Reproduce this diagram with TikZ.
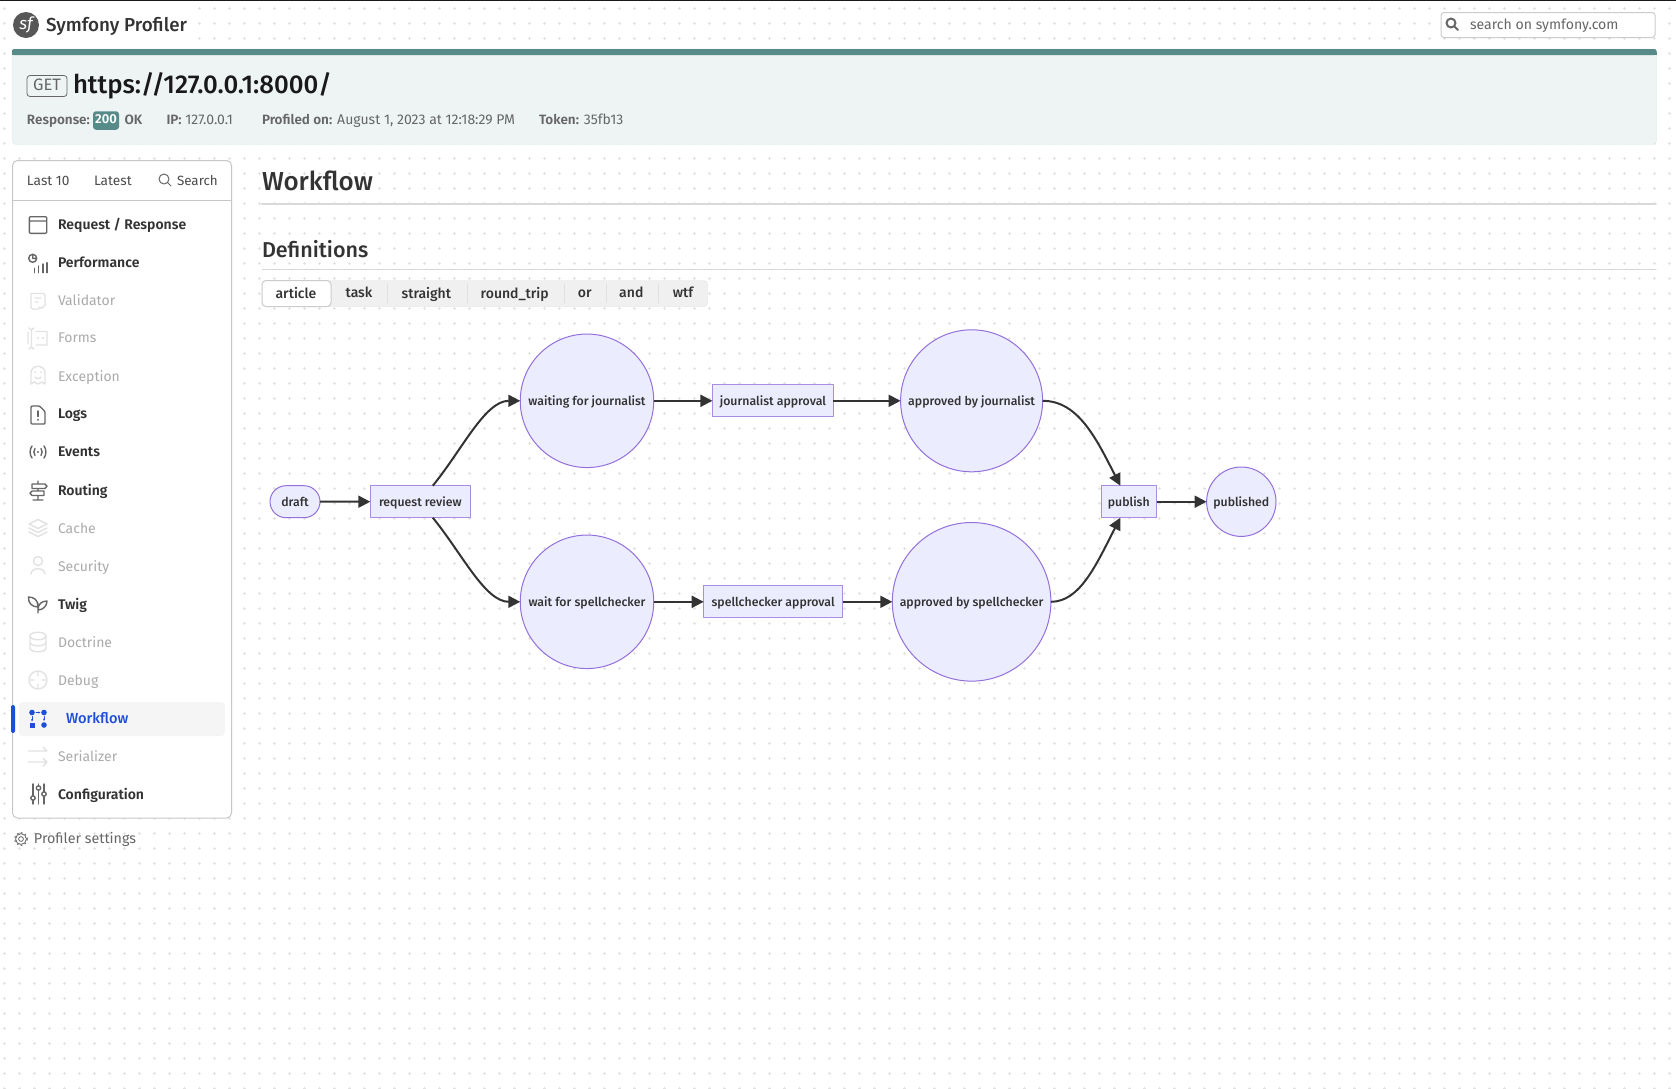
\documentclass[tikz,border=0pt]{standalone}
\usepackage{fontspec}
\setmainfont{Fira Sans}[BoldFont={Fira Sans SemiBold}]
\newfontfamily\medfont{Fira Sans Medium}
\usetikzlibrary{arrows.meta,shapes.misc}
\definecolor{teal}{HTML}{568B8A}
\definecolor{mint}{HTML}{EEF4F4}
\definecolor{mintline}{HTML}{DCE7E7}
\definecolor{ink}{HTML}{333333}
\definecolor{fade}{HTML}{ABABAB}
\definecolor{faint}{HTML}{E2E2E2}
\definecolor{iconink}{HTML}{666666}
\definecolor{linkblue}{HTML}{1D4ED8}
\definecolor{nodefill}{HTML}{ECECFF}
\definecolor{nodeline}{HTML}{9370DB}
\newcommand{\fsz}[1]{\fontsize{#1}{#1}\selectfont}
\begin{document}
\begin{tikzpicture}[x=1pt,y=-1pt,>=stealth,line join=round,line cap=round,
	lbl/.style={inner sep=0pt,outer sep=0pt,text=ink,execute at begin node={\vphantom{Ap}}},
	menu/.style={lbl,anchor=west,font=\fsz{14}},
	tab/.style={lbl,font=\medfont\fsz{14}},
	gnode/.style={lbl,font=\medfont\fsz{12.3},execute at begin node={\rule{0pt}{.92em}\vphantom{Ap}}},
	place/.style={gnode,circle,draw=nodeline,fill=nodefill,line width=1pt},
	trans/.style={gnode,rectangle,draw=nodeline!80!white,fill=nodefill,line width=1.2pt,minimum height=32pt},
	edge/.style={draw=ink,line width=2pt,line cap=butt,-{Triangle[length=12pt,width=12pt]}},
	ico/.style={line width=1.4pt,fill=none},
	]
	\useasboundingbox (0,0) rectangle (1676,1088);
	\fill[white] (0,0) rectangle (1676,1088);
	% background marks
	\foreach \x in {4,19,...,1669}
		\foreach \y in {8,23,...,1088}
			\draw[faint,line width=.8pt,line cap=butt] (\x-1.5,\y)--(\x+1.5,\y) (\x,\y-1.5)--(\x,\y+1.5);
	\fill[black!90] (0,0) rectangle (1676,1.2);

	% header
	\fill[white] (10,3) rectangle (196,46);
	\node[circle,fill=iconink!85!black,minimum size=26pt,inner sep=0pt,text=white,font=\fsz{17}\itshape] (logo) at (26,25) {sf};
	\node[lbl,anchor=west,font=\medfont\fsz{18.8}] (brand) at (46,26.5) {Symfony Profiler};
	\draw[black!20,fill=white,rounded corners=3pt,line width=1pt] (1441,12.5) rectangle (1655,37.5);
	\draw[iconink,line width=2pt] (1451,23) circle (4.5) (1454.5,26.5)--(1458,30);
	\node[lbl,anchor=west,text=black!60,font=\fsz{14.1}] (searchsite) at (1470,26) {search on symfony.com};

	% summary
	\draw[mintline,fill=mint,rounded corners=4pt] (12,49) rectangle (1656.5,144.5);
	\fill[teal,rounded corners=2pt] (12,49) rectangle (1656.5,55);
	\fill[teal] (12,52) rectangle (1656.5,55);
	\node[lbl,draw=iconink,line width=.8pt,rounded corners=3pt,minimum width=40pt,minimum height=21pt,text=iconink,font=\fsz{16.5}] (verb) at (47,86) {GET};
	\node[lbl,anchor=west,text=black!90,font=\medfont\fsz{25.8}] (url) at (73,86) {https://127.0.0.1:8000/};
	\node[lbl,anchor=west,text=iconink,font=\fsz{13.5}\bfseries] (resp) at (27,121) {Response:};
	\node[lbl,fill=teal,rounded corners=3pt,minimum width=26pt,minimum height=18.5pt,text=white,font=\fsz{13}\bfseries] (code) at (106,120.5) {200};
	\node[lbl,anchor=west,text=iconink,font=\fsz{13.5}\bfseries] (okay) at (124.5,121) {OK};
	\node[lbl,anchor=west,text=iconink,font=\fsz{14}] (addr) at (166.5,121) {{\fsz{13.5}\bfseries IP:} 127.0.0.1};
	\node[lbl,anchor=west,text=iconink,font=\fsz{14}] (stamp) at (262,121) {{\fsz{13.5}\bfseries Profiled on:} August 1, 2023 at 12:18:29 PM};
	\node[lbl,anchor=west,text=iconink,font=\fsz{14}] (token) at (539,121) {{\fsz{13.5}\bfseries Token:} 35fb13};

	% sidebar
	\draw[black!22,fill=white,rounded corners=5pt,line width=1pt] (12.5,160.5) rectangle (231.5,818);
	\draw[black!22,line width=1pt] (12.5,200.7)--(231.5,200.7);
	\node[lbl,anchor=west,text=black!70,font=\fsz{13.7}] (lastten) at (27,182) {Last 10};
	\node[lbl,anchor=west,text=black!70,font=\fsz{13.7}] (latest) at (94,182) {Latest};
	\draw[iconink,line width=1pt] (164,179) circle (5) (167.5,182.5)--(171,186);
	\node[lbl,anchor=west,text=black!70,font=\fsz{13.4}] (search) at (177,181.5) {Search};
	\fill[black!4,rounded corners=4pt] (19,702) rectangle (225,736);
	\fill[linkblue,rounded corners=2pt] (11,705) rectangle (15,733);
	\foreach \y/\txt/\col/\wgt in {224/{Request / Response}/ink/\bfseries,262/Performance/ink/\bfseries,300/Validator/fade/,338/Forms/fade/,376/Exception/fade/,414/Logs/ink/\bfseries,452/Events/ink/\bfseries,490/Routing/ink/\bfseries,528/Cache/fade/,566/Security/fade/,604/Twig/ink/\bfseries,642/Doctrine/fade/,680/Debug/fade/,756/Serializer/fade/,794/Configuration/ink/\bfseries}
		\node[menu,text=\col,font=\fsz{14}\wgt,name=item\y] at (58,\y+1.5) {\txt};
	\node[menu,text=linkblue,font=\medfont\fsz{14.6}] (itemworkflow) at (66,719.5) {Workflow};
	\node[lbl,anchor=west,text=iconink,font=\fsz{14.3}] (settings) at (34,839) {Profiler settings};

	% menu icons
	\begin{scope}[ico,iconink]
		\draw[rounded corners=1pt] (29.3,216.7) rectangle (46.7,233.3) (29.3,221)--(46.7,221);
		\draw (32.7,258.3) circle (4) (32.7,255.8)--(32.7,258.3)--(35,258.3);
		\foreach \b/\t in {34.7/268.3,38.7/266,43/264,47/262.7}
			\draw (\b,272.7)--(\b,\t);
		\draw[rounded corners=1pt] (31,406)--(31,424)--(45,424)--(45,411.5)--(39.5,406)--cycle;
		\draw (38,411)--(38,416.5) (38,419.5)--(38,420);
		\draw (32,446)++(0,0) .. controls (29.5,449) and (29.5,455) .. (32,458) (44,446) .. controls (46.5,449) and (46.5,455) .. (44,458)
			(35,448.5) .. controls (33.5,450.5) and (33.5,453.5) .. (35,455.5) (41,448.5) .. controls (42.5,450.5) and (42.5,453.5) .. (41,455.5);
		\fill (38,452) circle (1.2);
		\draw (38,481)--(38,484) (38,488.5)--(38,491) (38,495.5)--(38,500) (33,500)--(43,500)
			(32,484)--(45,484)--(47,486.2)--(45,488.5)--(32,488.5)--cycle (44,491)--(32,491)--(30,493.2)--(32,495.5)--(44,495.5)--cycle;
		\draw (38,603)--(38,613)
			(38,606.5) .. controls (38,600) and (34,597) .. (28.5,597) .. controls (28,603) and (32,607) .. (38,607)
			(38,609.5) .. controls (38,604) and (42,601) .. (47,601) .. controls (47,606) and (43,610) .. (38,610);
		\foreach \b/\t in {33/798,38.5/788,44/794}{
			\draw (\b,784)--(\b,\t-2.2) (\b,\t+2.2)--(\b,804);
			\draw (\b,\t) circle (2.2);
		}
		\draw[line width=.8pt] (21,839) circle (2.4);
		\draw[line width=.8pt] (21,839) circle (5.4);
		\draw[line width=1pt,dash pattern=on 1.6pt off 2.6pt,line cap=butt] (21,839) circle (6.3);
	\end{scope}
	\begin{scope}[ico,faint]
		\draw[rounded corners=1.5pt] (31,293.5)--(31,309)--(39,309) (45,303)--(45,293.5)--(31,293.5) (35,298)--(41,298) (35,302)--(38,302) (39,307)--(41,309)--(46,304);
		\draw (29,328)--(31.5,330)--(31.5,347)--(29,349) (34,328)--(31.5,330) (31.5,347)--(34,349) (36,331.5)--(47,331.5)--(47,345)--(36,345) (28,332)--(28,344);
		\fill (38,338) circle (1.1) (43,338) circle (1.1);
		\draw (31,384) -- (31,373) .. controls (31,364) and (45,364) .. (45,373) -- (45,384) -- (42,382) -- (38,384) -- (34,382) -- cycle (35,377) .. controls (36,379) and (40,379) .. (41,377);
		\fill (35,372) circle (1) (41,372) circle (1);
		\draw (38,519.5)--(47,524)--(38,528.5)--(29,524)--cycle (29,528)--(38,532.5)--(47,528) (29,532)--(38,536.5)--(47,532);
		\draw (38,561) circle (4.5) (31,574) .. controls (31,567) and (45,567) .. (45,574);
		\draw (30,636) .. controls (30,631) and (46,631) .. (46,636) -- (46,648) .. controls (46,653) and (30,653) .. (30,648) -- cycle (30,636) .. controls (30,641) and (46,641) .. (46,636) (30,642) .. controls (30,647) and (46,647) .. (46,642);
		\draw (38,680) circle (9) (38,671)--(38,676) (38,684)--(38,689) (29,680)--(34,680) (42,680)--(47,680);
		\draw (28,751)--(47,751) (43,747)--(47,751) (28,762)--(47,762) (43,758)--(47,762) (43,766)--(47,762);
	\end{scope}
	\begin{scope}[linkblue,line width=1pt]
		\fill (32,712.5) circle (2.8) (44,712.5) circle (2.8) (44,725) circle (2.8);
		\fill (29.5,722.5) rectangle (34.5,727.5);
		\draw[-{Stealth[length=2.5pt]}] (36,712.5)--(40.5,712.5);
		\draw[-{Stealth[length=2.5pt]}] (32,716.5)--(32,721.5);
		\draw[-{Stealth[length=2.5pt]}] (44,716.5)--(44,721);
	\end{scope}

	% page titles
	\node[lbl,anchor=west,font=\medfont\fsz{26}] (title) at (262,183.5) {Workflow};
	\draw[black!15,line width=1.6pt] (262,203.7)--(1656,203.7);
	\node[lbl,anchor=west,font=\medfont\fsz{21.5}] (defs) at (262,251.5) {Definitions};
	\draw[black!15,line width=1pt] (262,269.3)--(1656,269.3);
	\draw[black!12,fill=black!6,rounded corners=4pt] (262,280.5) rectangle (707.5,306.5);
	\foreach \x in {387.5,467.5,564.5,606.5,658.5}
		\draw[black!12] (\x,284)--(\x,303);
	\draw[black!20,fill=white,rounded corners=4pt,line width=1pt] (262,280.5) rectangle (331,306.5);
	\foreach \x/\txt [count=\k] in {296/article,359/task,426.3/straight,514.7/round\_trip,584.8/or,631.3/and,683/wtf}
		\node[tab,name=tab\k] at (\x,294) {\txt};

	% workflow graph
	\node[gnode,rounded rectangle,draw=nodeline,fill=nodefill,line width=1pt,minimum width=50pt,minimum height=32pt] (draft) at (295,501.7) {draft};
	\node[trans,minimum width=100pt] (review) at (420.3,501.7) {request review};
	\node[place,minimum size=133.5pt] (waitjourn) at (587,400.8) {waiting for journalist};
	\node[place,minimum size=133.5pt] (waitspell) at (587,601.8) {wait for spellchecker};
	\node[trans,minimum width=121pt] (journ) at (772.9,400.8) {journalist approval};
	\node[trans,minimum width=138.8pt] (spell) at (773.1,601.8) {spellchecker approval};
	\node[place,minimum size=142pt] (okjourn) at (971.6,400.8) {approved by journalist};
	\node[place,minimum size=158.6pt] (okspell) at (971.6,601.8) {approved by spellchecker};
	\node[trans,minimum width=55.4pt] (publish) at (1128.8,501.7) {publish};
	\node[place,minimum size=69.4pt] (done) at (1241.3,501.7) {published};

	\draw[edge] (draft) -- (review);
	\draw[edge] (review.52) .. controls (462,450) and (485,400.8) .. (waitjourn.west);
	\draw[edge] (review.-52) .. controls (462,553.4) and (485,601.8) .. (waitspell.west);
	\draw[edge] (waitjourn) -- (journ);
	\draw[edge] (waitspell) -- (spell);
	\draw[edge] (journ) -- (okjourn);
	\draw[edge] (spell) -- (okspell);
	\draw[edge] (okjourn.east) .. controls (1078,400.8) and (1096,438) .. (publish.118);
	\draw[edge] (okspell.east) .. controls (1080,601.8) and (1096,565) .. (publish.-118);
	\draw[edge] (publish) -- (done);
\end{tikzpicture}
\end{document}
